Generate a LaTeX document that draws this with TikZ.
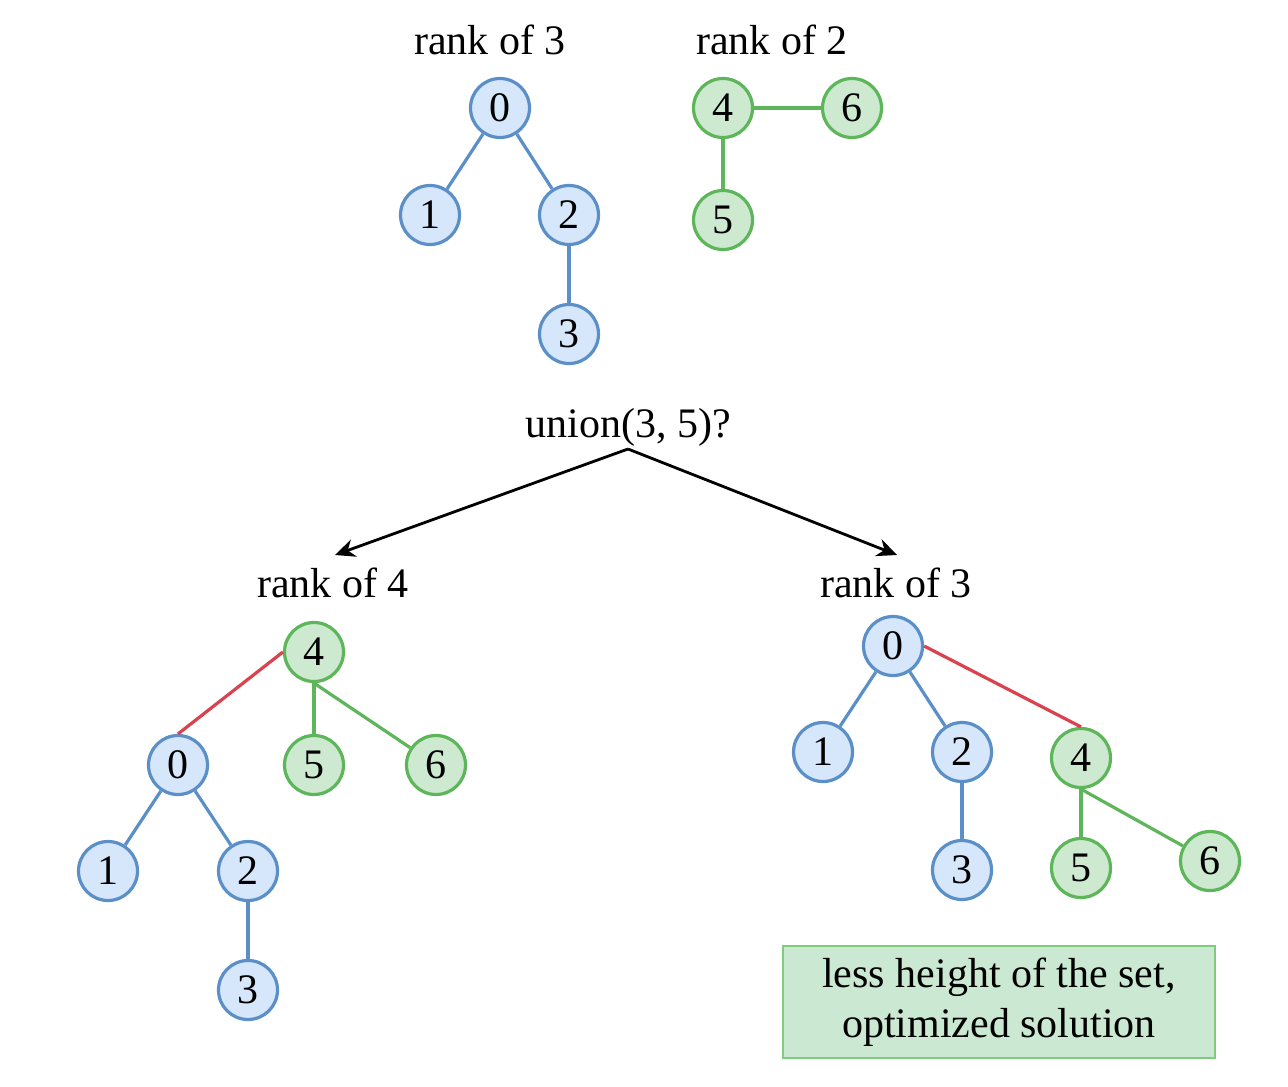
\documentclass[tikz,border=0pt]{standalone}
\usepackage{fontspec}
\setmainfont{Liberation Serif}
\usetikzlibrary{arrows.meta}
\definecolor{bfill}{HTML}{D6E7FB}
\definecolor{bdraw}{HTML}{5B8FC7}
\definecolor{gfill}{HTML}{CDE9D0}
\definecolor{gdraw}{HTML}{5DB65A}
\definecolor{redl}{HTML}{D9434F}
\definecolor{boxfill}{HTML}{CBE9D2}
\definecolor{boxdraw}{HTML}{7FCC7F}
\begin{document}
\begin{tikzpicture}[x=0.5pt,y=-0.5pt,
  font=\fontsize{21pt}{25pt}\selectfont,
  bnode/.style={circle,draw=bdraw,fill=bfill,line width=1.6pt,minimum size=29.5pt,inner sep=0pt},
  gnode/.style={circle,draw=gdraw,fill=gfill,line width=1.6pt,minimum size=29.5pt,inner sep=0pt},
  bedge/.style={draw=bdraw,line width=1.6pt},
  gedge/.style={draw=gdraw,line width=1.6pt},
  redge/.style={draw=redl,line width=1.6pt},
  arr/.style={draw=black,line width=1.4pt,-{Stealth[length=10pt,width=9pt]}},
  lbl/.style={inner sep=0pt}]
\useasboundingbox (0,0) rectangle (1288,1086);
% top labels
\node[lbl] (t1) at (490,40) {rank of 3};
\node[lbl] (t2) at (772,40) {rank of 2};
% top blue tree
\node[bnode] (a0) at (500,108) {0};
\node[bnode] (a1) at (430,215) {1};
\node[bnode] (a2) at (569,215) {2};
\node[bnode] (a3) at (569,334) {3};
\draw[bedge] (a0) -- (a1);
\draw[bedge] (a0) -- (a2);
\draw[bedge] (a2) -- (a3);
% top green tree
\node[gnode] (b4) at (723,108) {4};
\node[gnode] (b6) at (852,108) {6};
\node[gnode] (b5) at (723,220) {5};
\draw[gedge] (b4) -- (b6);
\draw[gedge] (b4) -- (b5);
% union
\node[lbl] (u) at (628,427) {union(3, 5)?};
\coordinate (us) at (628,449);
\coordinate (la) at (335,555);
\coordinate (ra) at (897,555);
\draw[arr] (us) -- (la);
\draw[arr] (us) -- (ra);
\node[lbl] (l1) at (333,583) {rank of 4};
\node[lbl] (l2) at (896,583) {rank of 3};
% left tree
\node[gnode] (c4) at (314,652) {4};
\node[bnode] (c0) at (178,765) {0};
\node[gnode] (c5) at (314,765) {5};
\node[gnode] (c6) at (436,765) {6};
\node[bnode] (c1) at (108,871) {1};
\node[bnode] (c2) at (248,871) {2};
\node[bnode] (c3) at (248,990) {3};
\draw[redge] (c4.west) -- (c0.north);
\draw[gedge] (c4.south) -- (c5.north);
\draw[gedge] (c4.south) -- (c6);
\draw[bedge] (c0) -- (c1);
\draw[bedge] (c0) -- (c2);
\draw[bedge] (c2) -- (c3);
% right tree
\node[bnode] (d0) at (893,646) {0};
\node[bnode] (d1) at (823,752) {1};
\node[bnode] (d2) at (962,752) {2};
\node[bnode] (d3) at (962,870) {3};
\node[gnode] (d4) at (1081,758) {4};
\node[gnode] (d5) at (1081,868) {5};
\node[gnode] (d6) at (1210,861) {6};
\draw[redge] (d0.east) -- (d4.north);
\draw[bedge] (d0) -- (d1);
\draw[bedge] (d0) -- (d2);
\draw[bedge] (d2) -- (d3);
\draw[gedge] (d4.south) -- (d5.north);
\draw[gedge] (d4.south) -- (d6);
% note box
\node[draw=boxdraw,fill=boxfill,line width=0.8pt,minimum width=216pt,minimum height=56pt,align=center,inner sep=0pt] (note) at (999,1002)
  {\raisebox{-2pt}{\begin{tabular}{@{}c@{}}less height of the set,\\optimized solution\end{tabular}}};
\end{tikzpicture}
\end{document}
